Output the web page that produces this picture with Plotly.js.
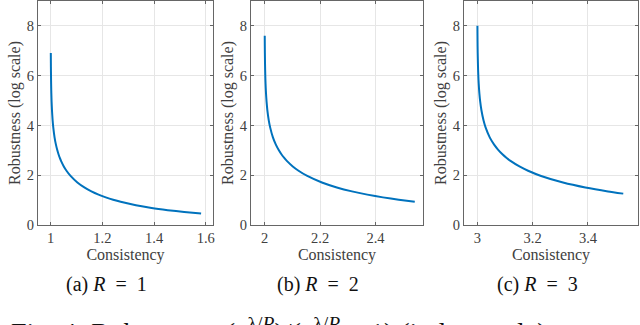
<!DOCTYPE html>
<html>
<head>
<meta charset="utf-8">
<script src="https://cdn.plot.ly/plotly-3.0.1.min.js"></script>
<style>
  body { margin: 0; background: #fff; }
  #plotly-graph { width: 640px; height: 325px; }
</style>
</head>
<body>
<div id="plotly-graph"></div>
<script>
// R = 1
var consR1 = [1.0005, 1.00075, 1.001, 1.0015, 1.002, 1.0025, 1.0035, 1.005, 1.0075, 1.010, 1.015, 1.0201, 1.0252, 1.0303, 1.0354, 1.0405, 1.0508, 1.0612, 1.0769, 1.1033, 1.1302, 1.1575, 1.1852, 1.2133, 1.2418, 1.2707, 1.3298, 1.3905, 1.4528, 1.5166, 1.5820];
var robR1 = [6.908, 6.503, 6.216, 5.811, 5.523, 5.301, 4.965, 4.610, 4.207, 3.922, 3.522, 3.239, 3.021, 2.843, 2.694, 2.565, 2.352, 2.180, 1.971, 1.708, 1.509, 1.350, 1.220, 1.110, 1.015, 0.933, 0.796, 0.686, 0.597, 0.522, 0.459];
// R = 2
var consR2 = [2.0005, 2.00075, 2.001, 2.0015, 2.002, 2.0025, 2.003, 2.004, 2.005, 2.007, 2.010, 2.015, 2.020, 2.030, 2.0402, 2.0504, 2.0606, 2.0708, 2.081, 2.1016, 2.1224, 2.1538, 2.2066, 2.2604, 2.315, 2.3704, 2.4266, 2.4836, 2.5414];
var robR2 = [7.601, 7.196, 6.908, 6.503, 6.216, 5.993, 5.811, 5.523, 5.301, 4.965, 4.610, 4.207, 3.922, 3.522, 3.239, 3.021, 2.843, 2.694, 2.565, 2.352, 2.180, 1.971, 1.708, 1.509, 1.350, 1.220, 1.110, 1.015, 0.933];
// R = 3
var consR3 = [3.0005, 3.00075, 3.0011, 3.0015, 3.0023, 3.003, 3.0045, 3.006, 3.0075, 3.0105, 3.015, 3.0225, 3.030, 3.045, 3.0603, 3.0756, 3.0909, 3.1062, 3.1215, 3.1524, 3.1836, 3.2307, 3.3099, 3.3906, 3.4725, 3.5277];
var robR3 = [8.006, 7.601, 7.196, 6.908, 6.503, 6.216, 5.811, 5.523, 5.301, 4.965, 4.610, 4.207, 3.922, 3.522, 3.239, 3.021, 2.843, 2.694, 2.565, 2.352, 2.180, 1.971, 1.708, 1.509, 1.350, 1.261];

var xTicks1 = [1, 1.2, 1.4, 1.6];
var xTicks2 = [2, 2.2, 2.4];
var xTicks3 = [3, 3.2, 3.4];
var yTicks = [0, 2, 4, 6, 8];
var captions = ['(a) <i>R</i>\u2002=\u20021', '(b) <i>R</i>\u2002=\u20022', '(c) <i>R</i>\u2002=\u20023'];

var serif = '"Liberation Serif", "Times New Roman", serif';
var axisGray = '#404040';
var lineStyle = { color: '#0072BD', width: 2, shape: 'spline', smoothing: 0.5 };

// axis tick labels / titles
var tickFont = { family: serif, size: 14.5, color: axisGray };
var xTitleFont = { family: serif, size: 16, color: axisGray };
var yTitleFont = { family: serif, size: 16, color: axisGray };

function mkTrace(x, y, n) {
    return { x: x, y: y, mode: 'lines', line: lineStyle, xaxis: 'x' + n, yaxis: 'y' + n, showlegend: false, hoverinfo: 'skip' };
}

function xAx(dom, rng, ticks, anchor) {
    return {
        domain: dom, range: rng, anchor: anchor, tickmode: 'array', tickvals: ticks, ticktext: ticks.map(String),
        showgrid: true, gridcolor: '#e6e6e6', zeroline: false,
        showline: true, linecolor: '#666', linewidth: 1, mirror: 'ticks',
        ticks: 'inside', ticklen: 3, tickcolor: '#666',
        tickfont: tickFont,
        title: { text: 'Consistency', font: xTitleFont, standoff: 1 },
        fixedrange: true
    };
}

function yAx(anchor) {
    return {
        domain: [0.3077, 0.9969], range: [0, 9], anchor: anchor, tickmode: 'array', tickvals: yTicks,
        showgrid: true, gridcolor: '#e6e6e6', zeroline: false,
        showline: true, linecolor: '#666', linewidth: 1, mirror: 'ticks',
        ticks: 'inside', ticklen: 3, tickcolor: '#666',
        tickfont: tickFont,
        title: { text: 'Robustness (log scale)', font: yTitleFont, standoff: 2 },
        fixedrange: true
    };
}

var data = [mkTrace(consR1, robR1, ''), mkTrace(consR2, robR2, '2'), mkTrace(consR3, robR3, '3')];

var capX = [106, 318, 537];
var annotations = captions.map(function (t, i) {
    return { text: t, xref: 'paper', yref: 'paper', x: capX[i] / 640, y: 1 - 284 / 325,
             xanchor: 'center', yanchor: 'middle', showarrow: false,
             font: { family: serif, size: 20, color: '#111' } };
});
// figure caption, cut by the bottom edge like in the source
annotations.push({
    text: 'Fig. 4: Robustness (e<sup>λ/<i>R</i></sup>)/(e<sup>λ/<i>R</i></sup> − 1) (in log scale) versus',
    xref: 'paper', yref: 'paper', x: 318 / 640, y: 1 - 330 / 325, xanchor: 'center', yanchor: 'middle',
    showarrow: false, font: { family: serif, size: 28, color: '#111' }
});

var layout = {
    width: 640, height: 325,
    font: { family: serif, size: 15, color: axisGray },
    margin: { l: 0, r: 0, t: 0, b: 0 },
    paper_bgcolor: '#fff', plot_bgcolor: '#fff',
    xaxis: xAx([0.0594, 0.3328], [0.951, 1.628], xTicks1, 'y'),
    xaxis2: xAx([0.3922, 0.6609], [1.951, 2.571], xTicks2, 'y2'),
    xaxis3: xAx([0.725, 0.9969], [2.952, 3.581], xTicks3, 'y3'),
    yaxis: yAx('x'), yaxis2: yAx('x2'), yaxis3: yAx('x3'),
    annotations: annotations,
    hovermode: false
};

Plotly.newPlot('plotly-graph', data, layout, { displayModeBar: false, staticPlot: true });
</script>
</body>
</html>
